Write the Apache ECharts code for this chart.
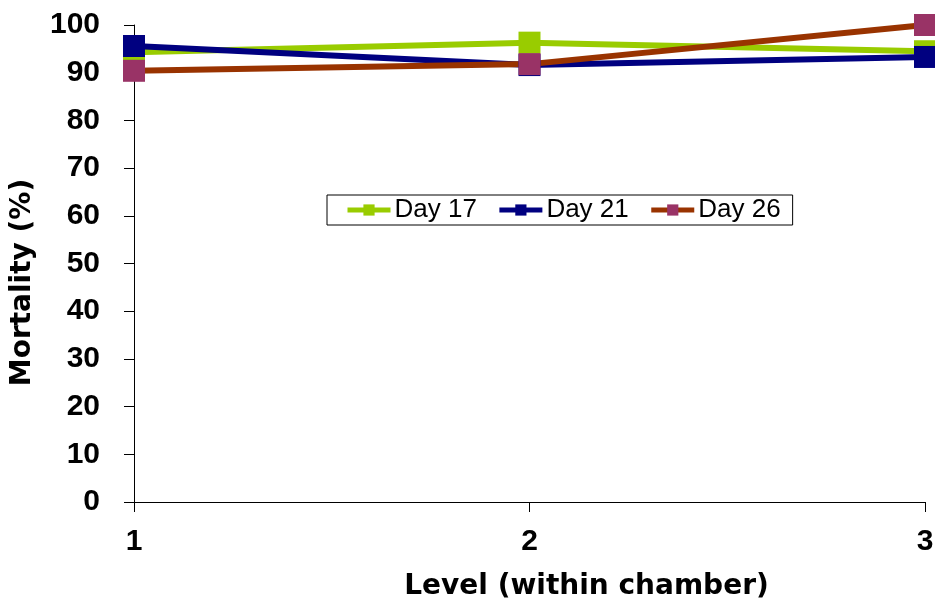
<!DOCTYPE html>
<html>
<head>
<meta charset="utf-8">
<script src="https://cdn.jsdelivr.net/npm/echarts@6/dist/echarts.min.js"></script>
<style>
  html, body { margin: 0; padding: 0; background: #fff; }
  #chart { width: 935px; height: 603px; }
</style>
</head>
<body>
<div id="chart"></div>
<script>
// Mortality by level within the chamber, for three sampling days
const levels = ['1', '2', '3'];
const day17 = [94.3, 96.3, 94.5];
const day21 = [95.6, 91.6, 93.3];
const day26 = [90.4, 91.8, 100];
const yTicks = { min: 0, max: 100, interval: 10 };

const chart = echarts.init(document.getElementById('chart'));
const font = '"Liberation Sans", Arial, sans-serif';
const nameFont = '"DejaVu Sans", "Liberation Sans", sans-serif';

function lineSeries(name, data, lineColor, markerColor) {
  return {
    name: name,
    type: 'line',
    data: data,
    symbol: 'rect',
    symbolSize: 22,
    lineStyle: { color: lineColor, width: 6 },
    itemStyle: { color: markerColor },
    emphasis: { disabled: true },
    animation: false
  };
}

chart.setOption({
  animation: false,
  grid: { left: 134, right: 10, top: 25, bottom: 101, containLabel: false, outerBoundsMode: 'none' },
  legend: {
    left: 327, top: 195,
    padding: [2, 12, 2, 18],
    itemGap: 20,
    itemWidth: 43,
    itemHeight: 14,
    borderColor: '#000',
    borderWidth: 1,
    borderRadius: 0,
    lineStyle: { width: 5 },
    textStyle: { fontFamily: font, fontSize: 26, color: '#000', padding: [0, 0, 0, -1] },
    data: ['Day 17', 'Day 21', 'Day 26']
  },
  xAxis: {
    type: 'category',
    data: levels,
    boundaryGap: false,
    name: 'Level (within chamber)',
    nameLocation: 'middle',
    nameGap: 71,
    nameTextStyle: { fontFamily: nameFont, fontSize: 28, fontWeight: 'bold', color: '#000', padding: [0, 0, 0, 114] },
    axisLine: { lineStyle: { color: '#000', width: 1 } },
    axisTick: { show: true, length: 10, alignWithLabel: true, lineStyle: { color: '#000' } },
    axisLabel: { fontFamily: font, fontSize: 30, fontWeight: 'bold', color: '#000', margin: 25 },
    splitLine: { show: false }
  },
  yAxis: {
    type: 'value',
    min: yTicks.min, max: yTicks.max, interval: yTicks.interval,
    name: 'Mortality (%)',
    nameLocation: 'middle',
    nameGap: 97,
    nameTextStyle: { fontFamily: nameFont, fontSize: 28, fontWeight: 'bold', color: '#000', padding: [0, 38, 0, 0] },
    axisLine: { show: true, lineStyle: { color: '#000', width: 1 } },
    axisTick: { show: true, length: 10, lineStyle: { color: '#000' } },
    axisLabel: { fontFamily: font, fontSize: 30, fontWeight: 'bold', color: '#000', margin: 34 },
    splitLine: { show: false }
  },
  series: [
    lineSeries('Day 17', day17, '#99CC00', '#99CC00'),
    lineSeries('Day 21', day21, '#000080', '#000080'),
    lineSeries('Day 26', day26, '#993300', '#993366')
  ]
});
</script>
</body>
</html>
